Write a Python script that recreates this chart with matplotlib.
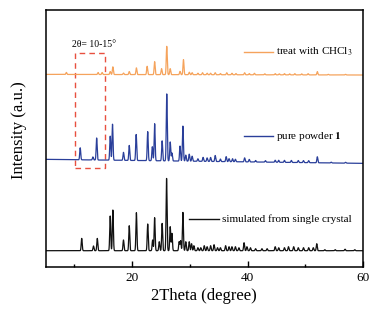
import numpy as np
import matplotlib
matplotlib.use("Agg")
import matplotlib.pyplot as plt
from matplotlib.patches import Rectangle

plt.rcParams['font.family'] = ['Liberation Serif', 'DejaVu Serif']
plt.rcParams['mathtext.fontset'] = 'stix'

# Peak positions (2theta, degree) and heights (arbitrary units)
sim_pos = [11.26, 13.3, 13.96, 16.2, 16.66, 18.5, 19.5, 20.74, 22.7, 23.55, 23.9, 24.7,
           25.2, 25.97, 26.6, 26.9, 28.15, 28.4, 28.8, 29.3, 29.9, 30.3, 30.7, 31.4, 31.9,
           32.5, 33.0, 33.6, 34.2, 34.8, 35.3, 36.2, 36.8, 37.3, 37.9, 38.5, 39.4, 39.9,
           40.5, 41.4, 42.5, 43.4, 44.8, 45.4, 46.4, 47.1, 48.0, 48.8, 49.7, 50.6, 51.4,
           52.0, 53.4, 55.2, 56.9, 58.6]
sim_h = [12.3, 4.7, 12.3, 34.7, 40.7, 10.7, 25.0, 38.0, 26.7, 10.7, 33.0, 9.0,
         27.3, 72.3, 24.0, 17.3, 9.0, 10.0, 38.3, 9.0, 9.0, 7.0, 5.0, 3.0, 3.0,
         5.0, 4.0, 5.0, 6.0, 3.0, 3.0, 5.0, 4.0, 4.0, 4.0, 3.0, 8.0, 4.0,
         3.0, 2.0, 2.0, 2.0, 4.0, 3.0, 3.0, 4.0, 4.0, 3.0, 3.0, 3.0, 3.0,
         7.0, 1.0, 1.0, 1.5, 1.0]

pure_pos = [11.0, 13.2, 13.85, 16.2, 16.6, 18.5, 19.5, 20.7, 22.7, 23.5, 23.9, 25.2,
            26.0, 26.6, 26.9, 28.3, 28.8, 29.3, 29.9, 30.4, 31.4, 32.3, 33.0, 33.6, 34.4,
            35.3, 36.3, 36.8, 37.4, 37.9, 39.5, 40.3, 41.4, 43.1, 44.8, 45.4, 46.4, 47.6,
            48.8, 49.7, 50.6, 52.1, 54.5, 57.0]
pure_h = [12.0, 3.0, 22.0, 24.0, 36.0, 8.0, 15.0, 26.0, 29.0, 14.0, 37.0, 20.0,
          67.0, 19.0, 8.0, 15.0, 35.0, 6.0, 7.0, 5.0, 2.5, 4.0, 3.5, 4.0, 6.0,
          2.5, 5.0, 3.0, 3.0, 2.5, 4.0, 2.5, 1.5, 1.5, 2.0, 2.0, 2.0, 2.0,
          2.0, 2.0, 2.0, 6.0, 0.8, 0.8]

treat_pos = [8.6, 14.1, 14.8, 16.2, 16.66, 18.5, 19.5, 20.74, 22.6, 23.9, 25.1, 26.0,
             26.6, 28.3, 28.9, 29.9, 30.4, 31.4, 32.2, 33.0, 33.6, 34.4, 35.3, 36.4,
             37.3, 38.0, 39.5, 40.3, 41.2, 43.0, 44.8, 45.5, 46.4, 47.3, 48.2, 49.4,
             50.5, 52.1, 54.0, 57.0]
treat_h = [2.0, 2.0, 2.0, 3.0, 7.7, 1.5, 3.0, 6.7, 8.3, 13.0, 6.0, 28.3,
           6.0, 3.3, 15.0, 2.5, 2.0, 1.5, 2.0, 1.5, 1.5, 2.0, 1.2, 2.0,
           1.5, 1.2, 2.0, 1.2, 1.5, 1.0, 1.2, 1.0, 1.2, 1.0, 1.2, 1.0,
           1.2, 3.3, 0.6, 0.6]

# Baseline offsets (left, right) of each trace
sim_base = (16.0, 16.0)
pure_base = (107.4, 103.4)
treat_base = (192.4, 191.8)

labels = ["treat with CHCl$_3$", "pure powder $\\mathbf{1}$", "simulated from single crystal"]
colors = ["#F5A35C", "#2A3F9A", "#111111"]

x = np.linspace(5, 60, 5501)

def trace(pos, h, base, w=0.085):
    y = np.linspace(base[0], base[1], x.size)
    for p, hh in zip(pos, h):
        y = y + hh * np.exp(-0.5 * ((x - p) / w) ** 2)
    return y

fig = plt.figure(figsize=(3.8, 3.17), dpi=100)
ax = fig.add_axes([0.120, 0.1587, 0.835, 0.8093])

ax.plot(x, trace(treat_pos, treat_h, treat_base), color=colors[0], lw=0.9)
ax.plot(x, trace(pure_pos, pure_h, pure_base), color=colors[1], lw=0.9)
ax.plot(x, trace(sim_pos, sim_h, sim_base), color=colors[2], lw=0.9)

ax.set_xlim(5, 60)
ax.set_ylim(0, 256.7)

# dashed box
ax.add_patch(Rectangle((10.17, 98.4), 15.3 - 10.17, 213.4 - 98.4, fill=False,
                       ec="#E8503F", lw=1.0, ls=(0, (4, 3))))
ax.text(13.4, 222.7, "2θ= 10-15°", ha="center", va="center", fontsize=7)

# legend-like annotations
seg = [(39.4, 44.5, 215.0), (39.4, 44.5, 130.7), (29.9, 35.1, 47.4)]
for (x0, x1, yy), lab, c in zip(seg, labels, colors):
    ax.plot([x0, x1], [yy, yy], color=c, lw=1.0)
    ax.text(x1 + 0.5, yy, lab, ha="left", va="center", fontsize=8)

ax.set_yticks([])
ax.set_xticks([20, 40, 60])
ax.set_xticks([10, 30, 50], minor=True)
ax.tick_params(axis='x', which='major', direction='in', length=4, width=1, labelsize=9.5, pad=4)
ax.tick_params(axis='x', which='minor', direction='in', length=2.5, width=1)
for s in ax.spines.values():
    s.set_linewidth(1.1)

ax.set_xlabel("2Theta (degree)", fontsize=12, labelpad=3)
ax.set_ylabel("Intensity (a.u.)", fontsize=12)
ax.yaxis.set_label_coords(-0.06, 0.533)

fig.savefig("out.png", dpi=100)
